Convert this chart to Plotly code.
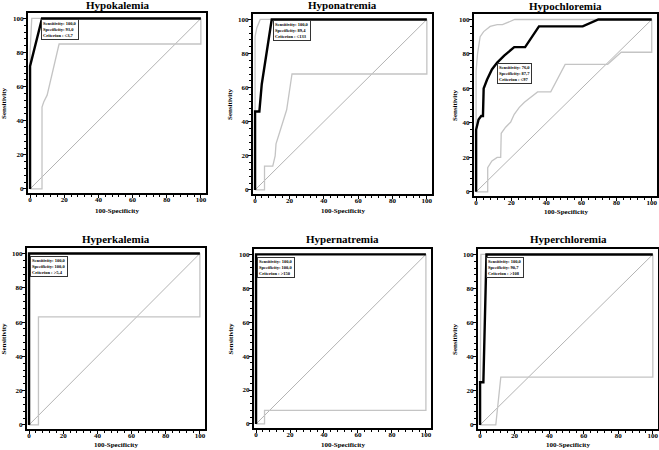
import plotly.graph_objects as go

W, H = 659, 450

titles = ["Hypokalemia", "Hyponatremia", "Hypochloremia",
          "Hyperkalemia", "Hypernatremia", "Hyperchloremia"]

# ROC curves (x = 100-Specificity, y = Sensitivity)
hypok_x = [0, 0, 7, 100]
hypok_y = [0, 72, 100, 100]
hypok_up_x = [0, 0, 1, 100]
hypok_up_y = [0, 80, 100, 100]
hypok_lo_x = [0, 7, 7, 8, 10, 17, 100, 100]
hypok_lo_y = [0, 0, 48, 51, 55, 85, 85, 100]

hypon_x = [0, 0, 2.5, 3.9, 9.7, 100]
hypon_y = [0, 46, 46, 62, 100, 100]
hypon_up_x = [0, 0, 1, 3, 100]
hypon_up_y = [0, 90, 95, 100, 100]
hypon_lo_x = [0, 5.5, 5.5, 10.3, 11.7, 12.2, 15, 18.4, 21.5, 100, 100]
hypon_lo_y = [0, 0, 14, 14, 20, 27, 36, 47, 68, 68, 100]

hypocl_x = [0, 0, 1.4, 2.9, 3.9, 4.3, 6.2, 9, 12, 16, 21.7, 27.9, 35.8, 60.7, 69.6, 100]
hypocl_y = [0, 36, 42, 44, 44, 60, 65, 71, 75, 79, 84, 84, 96, 96, 100, 100]
hypocl_up_x = [0, 0, 0.8, 2.3, 4.3, 8, 12, 15, 22, 100]
hypocl_up_y = [0, 70, 80, 90, 93, 96, 97, 97, 100, 100]
hypocl_lo_x = [0, 6.6, 6.6, 9, 12, 14, 14.3, 16.8, 19.7, 21.7, 24.6, 27.5, 35, 42.5,
               50.7, 74.9, 82.6, 100, 100]
hypocl_lo_y = [0, 0, 14, 18, 20, 20, 34, 37.5, 40.5, 45, 49, 52, 58, 58,
               74, 74, 81, 81, 100]

hyperk_x = [0, 0, 100]
hyperk_y = [0, 100, 100]
hyperk_lo_x = [0, 5.5, 5.5, 100, 100]
hyperk_lo_y = [0, 0, 63, 63, 100]

hypern_x = [0, 0, 100]
hypern_y = [0, 100, 100]
hypern_lo_x = [0, 5, 5, 100, 100]
hypern_lo_y = [0, 0, 8, 8, 100]

hypercl_x = [0, 0, 1.9, 3.7, 100]
hypercl_y = [0, 25, 25, 100, 100]
hypercl_up_x = [0, 0.5, 100]
hypercl_up_y = [0, 100, 100]
hypercl_lo_x = [0, 9.1, 12, 100, 100]
hypercl_lo_y = [0, 0, 28, 28, 100]

curves = [
    (hypok_x, hypok_y, hypok_up_x, hypok_up_y, hypok_lo_x, hypok_lo_y),
    (hypon_x, hypon_y, hypon_up_x, hypon_up_y, hypon_lo_x, hypon_lo_y),
    (hypocl_x, hypocl_y, hypocl_up_x, hypocl_up_y, hypocl_lo_x, hypocl_lo_y),
    (hyperk_x, hyperk_y, hyperk_x, hyperk_y, hyperk_lo_x, hyperk_lo_y),
    (hypern_x, hypern_y, hypern_x, hypern_y, hypern_lo_x, hypern_lo_y),
    (hypercl_x, hypercl_y, hypercl_up_x, hypercl_up_y, hypercl_lo_x, hypercl_lo_y),
]

sens = ["100,0", "100,0", "76,0", "100,0", "100,0", "100,0"]
spec = ["93,0", "89,4", "87,7", "100,0", "100,0", "90,7"]
crit = ["\u22643,7", "\u2264133", "\u226497", ">5,4", ">150", ">108"]
# box anchor (top-left) in data coords
box_x = [6.5, 10.5, 12, 0.3, 0.3, 3.5]
box_y = [99.5, 99.5, 74.5, 98.5, 98.5, 98.5]

# frame in window pixels: left, right, top, bottom
frames = [(28, 206, 13, 193), (253, 432, 14, 194), (474, 657, 14, 196),
          (27, 205, 248, 429), (254, 431, 249, 428), (478, 658, 249, 429)]
title_y = [5, 5, 6, 239, 239, 239]
xtitle_y = [211, 211, 212, 445, 445, 445]
ytitle_x = [4, 230, 455, 3, 230, 455]


def px(v):
    return v / W


def py(v):
    return 1 - v / H


FONT = "Liberation Serif"
fig = go.Figure()
annos = []

for i in range(6):
    n = "" if i == 0 else str(i + 1)
    xa, ya = "x" + n, "y" + n
    l, r, t, b = frames[i]
    cx, cy, ux, uy, lx, ly = curves[i]
    fig.add_trace(go.Scatter(x=[0, 100], y=[0, 100], mode="lines", xaxis=xa, yaxis=ya,
                             line=dict(color="#a0a0a0", width=0.8), showlegend=False))
    fig.add_trace(go.Scatter(x=lx, y=ly, mode="lines", xaxis=xa, yaxis=ya,
                             line=dict(color="#c4c4c4", width=1.3), showlegend=False))
    fig.add_trace(go.Scatter(x=ux, y=uy, mode="lines", xaxis=xa, yaxis=ya,
                             line=dict(color="#c4c4c4", width=1.3), showlegend=False))
    fig.add_trace(go.Scatter(x=cx, y=cy, mode="lines", xaxis=xa, yaxis=ya,
                             line=dict(color="black", width=2.4), showlegend=False))

    common = dict(showline=True, mirror=True, linewidth=2, linecolor="black",
                  showgrid=False, zeroline=False, ticks="outside", ticklen=3,
                  tickwidth=1, tickcolor="black", dtick=20, tick0=0,
                  tickfont=dict(family=FONT, size=7, color="black", weight="bold"),
                  minor=dict(ticks="outside", dtick=4, ticklen=2, tickcolor="black",
                             tickwidth=1, showgrid=False))
    fig.layout["xaxis" + n] = dict(common, domain=[px(l), px(r)], range=[-1.2, 103],
                                   anchor=ya, ticklabelstandoff=-4)
    fig.layout["yaxis" + n] = dict(common, domain=[py(b), py(t)],
                                   range=[-2.4, 103.2], anchor=xa, ticklabelstandoff=-2)

    annos.append(dict(text=titles[i], xref="paper", yref="paper",
                      x=px((l + r) / 2), y=py(title_y[i]), showarrow=False,
                      xanchor="center", yanchor="middle",
                      font=dict(family=FONT, size=11, color="black", weight="bold")))
    annos.append(dict(text="100-Specificity", xref="paper", yref="paper",
                      x=px((l + r) / 2), y=py(xtitle_y[i]), showarrow=False,
                      xanchor="center", yanchor="middle",
                      font=dict(family=FONT, size=7, color="black", weight="bold")))
    annos.append(dict(text="Sensitivity", xref="paper", yref="paper", textangle=-90,
                      x=px(ytitle_x[i]), y=py((t + b) / 2), showarrow=False,
                      xanchor="center", yanchor="middle",
                      font=dict(family=FONT, size=7, color="black", weight="bold")))
    annos.append(dict(text="Sensitivity: %s<br>Specificity: %s<br>Criterion : %s"
                      % (sens[i], spec[i], crit[i]),
                      xref=xa, yref=ya, x=box_x[i], y=box_y[i], showarrow=False,
                      xanchor="left", yanchor="top", align="left",
                      bordercolor="#333", borderwidth=1, borderpad=1, bgcolor="white",
                      font=dict(family=FONT, size=4.5, color="black", weight="bold")))

fig.update_layout(width=W, height=H, margin=dict(l=0, r=0, t=0, b=0),
                  paper_bgcolor="white", plot_bgcolor="white",
                  annotations=annos, showlegend=False)

# drop the default 8px body margin so the figure sits at the window corner
fig.write_html("out.html", config={"displayModeBar": False},
               post_script="document.body.style.margin = '0';")
